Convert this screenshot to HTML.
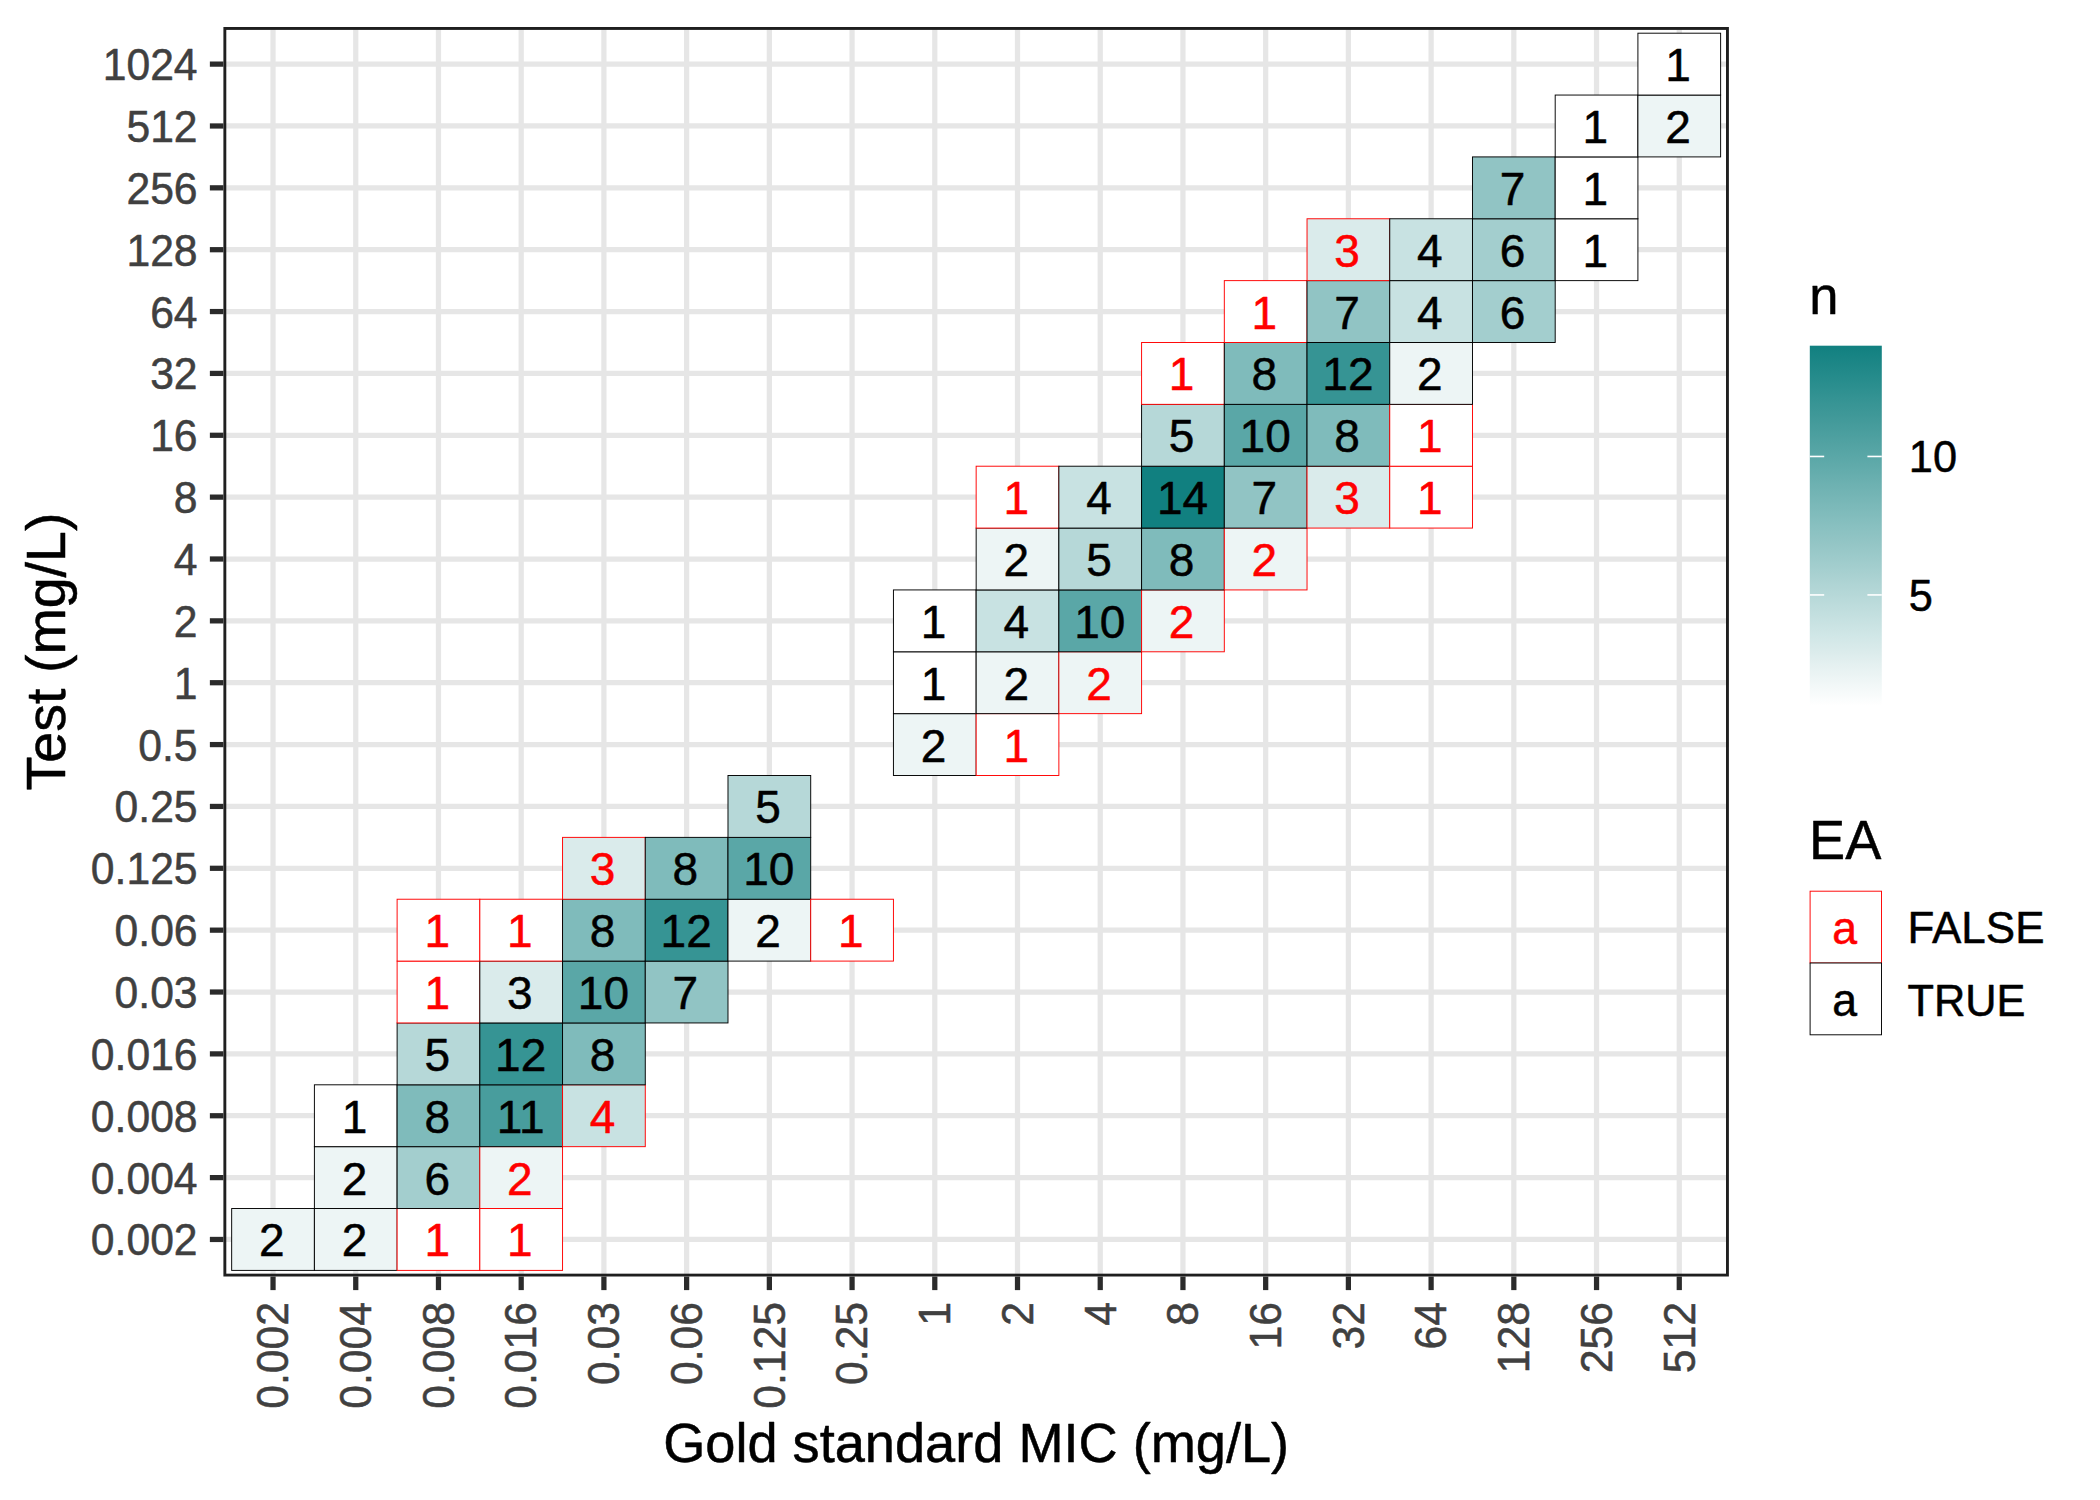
<!DOCTYPE html>
<html lang="en"><head><meta charset="utf-8"><title>Gold standard MIC vs Test</title>
<style>html,body{margin:0;padding:0;background:#fff;}body{width:2100px;height:1500px;overflow:hidden;}svg{display:block;}text{font-family:"Liberation Sans",Arial,Helvetica,sans-serif;}text{stroke-width:0.5px;stroke-linejoin:round;}.ax{font-size:43.33px;fill:#404040;stroke:#404040;}.ti{font-size:54.17px;fill:#000;stroke:#000;}.g{font-size:46.00px;}.lt{font-size:43.33px;fill:#000;stroke:#000;}</style></head><body>
<svg width="2100" height="1500" viewBox="0 0 2100 1500">
<rect width="2100" height="1500" fill="#fff"/>
<defs><clipPath id="pc"><rect x="223.40" y="27.00" width="1505.50" height="1249.57"/></clipPath>
<linearGradient id="cb" x1="0" y1="0" x2="0" y2="1"><stop offset="0.0000" stop-color="#118080"/><stop offset="0.0385" stop-color="#1a8585"/><stop offset="0.0769" stop-color="#238a8a"/><stop offset="0.1154" stop-color="#2c8f8f"/><stop offset="0.1538" stop-color="#369494"/><stop offset="0.1923" stop-color="#3f9898"/><stop offset="0.2308" stop-color="#489d9d"/><stop offset="0.2692" stop-color="#51a2a2"/><stop offset="0.3077" stop-color="#5aa7a7"/><stop offset="0.3462" stop-color="#63acac"/><stop offset="0.3846" stop-color="#6db1b1"/><stop offset="0.4231" stop-color="#76b6b6"/><stop offset="0.4615" stop-color="#7fbbbb"/><stop offset="0.5000" stop-color="#88c0c0"/><stop offset="0.5385" stop-color="#91c4c4"/><stop offset="0.5769" stop-color="#9ac9c9"/><stop offset="0.6154" stop-color="#a3cece"/><stop offset="0.6538" stop-color="#add3d3"/><stop offset="0.6923" stop-color="#b6d8d8"/><stop offset="0.7308" stop-color="#bfdddd"/><stop offset="0.7692" stop-color="#c8e2e2"/><stop offset="0.8077" stop-color="#d1e7e7"/><stop offset="0.8462" stop-color="#daebeb"/><stop offset="0.8846" stop-color="#e4f0f0"/><stop offset="0.9231" stop-color="#edf5f5"/><stop offset="0.9615" stop-color="#f6fafa"/><stop offset="1.0000" stop-color="#ffffff"/></linearGradient></defs>
<g clip-path="url(#pc)">
<g stroke="#e6e6e6" stroke-width="5.25" fill="none">
<line x1="223.40" x2="1728.90" y1="1239.46" y2="1239.46"/>
<line x1="223.40" x2="1728.90" y1="1177.60" y2="1177.60"/>
<line x1="223.40" x2="1728.90" y1="1115.74" y2="1115.74"/>
<line x1="223.40" x2="1728.90" y1="1053.88" y2="1053.88"/>
<line x1="223.40" x2="1728.90" y1="992.02" y2="992.02"/>
<line x1="223.40" x2="1728.90" y1="930.16" y2="930.16"/>
<line x1="223.40" x2="1728.90" y1="868.30" y2="868.30"/>
<line x1="223.40" x2="1728.90" y1="806.44" y2="806.44"/>
<line x1="223.40" x2="1728.90" y1="744.58" y2="744.58"/>
<line x1="223.40" x2="1728.90" y1="682.72" y2="682.72"/>
<line x1="223.40" x2="1728.90" y1="620.86" y2="620.86"/>
<line x1="223.40" x2="1728.90" y1="559.00" y2="559.00"/>
<line x1="223.40" x2="1728.90" y1="497.14" y2="497.14"/>
<line x1="223.40" x2="1728.90" y1="435.28" y2="435.28"/>
<line x1="223.40" x2="1728.90" y1="373.42" y2="373.42"/>
<line x1="223.40" x2="1728.90" y1="311.56" y2="311.56"/>
<line x1="223.40" x2="1728.90" y1="249.70" y2="249.70"/>
<line x1="223.40" x2="1728.90" y1="187.84" y2="187.84"/>
<line x1="223.40" x2="1728.90" y1="125.98" y2="125.98"/>
<line x1="223.40" x2="1728.90" y1="64.12" y2="64.12"/>
<line x1="273.03" x2="273.03" y1="27.00" y2="1276.57"/>
<line x1="355.75" x2="355.75" y1="27.00" y2="1276.57"/>
<line x1="438.47" x2="438.47" y1="27.00" y2="1276.57"/>
<line x1="521.19" x2="521.19" y1="27.00" y2="1276.57"/>
<line x1="603.91" x2="603.91" y1="27.00" y2="1276.57"/>
<line x1="686.63" x2="686.63" y1="27.00" y2="1276.57"/>
<line x1="769.35" x2="769.35" y1="27.00" y2="1276.57"/>
<line x1="852.07" x2="852.07" y1="27.00" y2="1276.57"/>
<line x1="934.79" x2="934.79" y1="27.00" y2="1276.57"/>
<line x1="1017.51" x2="1017.51" y1="27.00" y2="1276.57"/>
<line x1="1100.23" x2="1100.23" y1="27.00" y2="1276.57"/>
<line x1="1182.95" x2="1182.95" y1="27.00" y2="1276.57"/>
<line x1="1265.67" x2="1265.67" y1="27.00" y2="1276.57"/>
<line x1="1348.39" x2="1348.39" y1="27.00" y2="1276.57"/>
<line x1="1431.11" x2="1431.11" y1="27.00" y2="1276.57"/>
<line x1="1513.83" x2="1513.83" y1="27.00" y2="1276.57"/>
<line x1="1596.55" x2="1596.55" y1="27.00" y2="1276.57"/>
<line x1="1679.27" x2="1679.27" y1="27.00" y2="1276.57"/>
</g>
<g stroke-width="0.95" stroke-linejoin="miter">
<rect x="231.67" y="1208.53" width="82.72" height="61.86" fill="#edf5f5" stroke="#000"/>
<rect x="314.39" y="1208.53" width="82.72" height="61.86" fill="#edf5f5" stroke="#000"/>
<rect x="314.39" y="1146.67" width="82.72" height="61.86" fill="#edf5f5" stroke="#000"/>
<rect x="314.39" y="1084.81" width="82.72" height="61.86" fill="#ffffff" stroke="#000"/>
<rect x="397.11" y="1208.53" width="82.72" height="61.86" fill="#ffffff" stroke="#f00"/>
<rect x="397.11" y="1146.67" width="82.72" height="61.86" fill="#a3cece" stroke="#000"/>
<rect x="397.11" y="1084.81" width="82.72" height="61.86" fill="#7fbbbb" stroke="#000"/>
<rect x="397.11" y="1022.95" width="82.72" height="61.86" fill="#b6d8d8" stroke="#000"/>
<rect x="397.11" y="961.09" width="82.72" height="61.86" fill="#ffffff" stroke="#f00"/>
<rect x="397.11" y="899.23" width="82.72" height="61.86" fill="#ffffff" stroke="#f00"/>
<rect x="479.83" y="1208.53" width="82.72" height="61.86" fill="#ffffff" stroke="#f00"/>
<rect x="479.83" y="1146.67" width="82.72" height="61.86" fill="#edf5f5" stroke="#f00"/>
<rect x="479.83" y="1084.81" width="82.72" height="61.86" fill="#489d9d" stroke="#000"/>
<rect x="479.83" y="1022.95" width="82.72" height="61.86" fill="#369494" stroke="#000"/>
<rect x="479.83" y="961.09" width="82.72" height="61.86" fill="#daebeb" stroke="#000"/>
<rect x="479.83" y="899.23" width="82.72" height="61.86" fill="#ffffff" stroke="#f00"/>
<rect x="562.55" y="1084.81" width="82.72" height="61.86" fill="#c8e2e2" stroke="#f00"/>
<rect x="562.55" y="1022.95" width="82.72" height="61.86" fill="#7fbbbb" stroke="#000"/>
<rect x="562.55" y="961.09" width="82.72" height="61.86" fill="#5aa7a7" stroke="#000"/>
<rect x="562.55" y="899.23" width="82.72" height="61.86" fill="#7fbbbb" stroke="#000"/>
<rect x="562.55" y="837.37" width="82.72" height="61.86" fill="#daebeb" stroke="#f00"/>
<rect x="645.27" y="961.09" width="82.72" height="61.86" fill="#91c4c4" stroke="#000"/>
<rect x="645.27" y="899.23" width="82.72" height="61.86" fill="#369494" stroke="#000"/>
<rect x="645.27" y="837.37" width="82.72" height="61.86" fill="#7fbbbb" stroke="#000"/>
<rect x="727.99" y="899.23" width="82.72" height="61.86" fill="#edf5f5" stroke="#000"/>
<rect x="727.99" y="837.37" width="82.72" height="61.86" fill="#5aa7a7" stroke="#000"/>
<rect x="727.99" y="775.51" width="82.72" height="61.86" fill="#b6d8d8" stroke="#000"/>
<rect x="810.71" y="899.23" width="82.72" height="61.86" fill="#ffffff" stroke="#f00"/>
<rect x="893.43" y="713.65" width="82.72" height="61.86" fill="#edf5f5" stroke="#000"/>
<rect x="893.43" y="651.79" width="82.72" height="61.86" fill="#ffffff" stroke="#000"/>
<rect x="893.43" y="589.93" width="82.72" height="61.86" fill="#ffffff" stroke="#000"/>
<rect x="976.15" y="713.65" width="82.72" height="61.86" fill="#ffffff" stroke="#f00"/>
<rect x="976.15" y="651.79" width="82.72" height="61.86" fill="#edf5f5" stroke="#000"/>
<rect x="976.15" y="589.93" width="82.72" height="61.86" fill="#c8e2e2" stroke="#000"/>
<rect x="976.15" y="528.07" width="82.72" height="61.86" fill="#edf5f5" stroke="#000"/>
<rect x="976.15" y="466.21" width="82.72" height="61.86" fill="#ffffff" stroke="#f00"/>
<rect x="1058.87" y="651.79" width="82.72" height="61.86" fill="#edf5f5" stroke="#f00"/>
<rect x="1058.87" y="589.93" width="82.72" height="61.86" fill="#5aa7a7" stroke="#000"/>
<rect x="1058.87" y="528.07" width="82.72" height="61.86" fill="#b6d8d8" stroke="#000"/>
<rect x="1058.87" y="466.21" width="82.72" height="61.86" fill="#c8e2e2" stroke="#000"/>
<rect x="1141.59" y="589.93" width="82.72" height="61.86" fill="#edf5f5" stroke="#f00"/>
<rect x="1141.59" y="528.07" width="82.72" height="61.86" fill="#7fbbbb" stroke="#000"/>
<rect x="1141.59" y="466.21" width="82.72" height="61.86" fill="#118080" stroke="#000"/>
<rect x="1141.59" y="404.35" width="82.72" height="61.86" fill="#b6d8d8" stroke="#000"/>
<rect x="1141.59" y="342.49" width="82.72" height="61.86" fill="#ffffff" stroke="#f00"/>
<rect x="1224.31" y="528.07" width="82.72" height="61.86" fill="#edf5f5" stroke="#f00"/>
<rect x="1224.31" y="466.21" width="82.72" height="61.86" fill="#91c4c4" stroke="#000"/>
<rect x="1224.31" y="404.35" width="82.72" height="61.86" fill="#5aa7a7" stroke="#000"/>
<rect x="1224.31" y="342.49" width="82.72" height="61.86" fill="#7fbbbb" stroke="#000"/>
<rect x="1224.31" y="280.63" width="82.72" height="61.86" fill="#ffffff" stroke="#f00"/>
<rect x="1307.03" y="466.21" width="82.72" height="61.86" fill="#daebeb" stroke="#f00"/>
<rect x="1307.03" y="404.35" width="82.72" height="61.86" fill="#7fbbbb" stroke="#000"/>
<rect x="1307.03" y="342.49" width="82.72" height="61.86" fill="#369494" stroke="#000"/>
<rect x="1307.03" y="280.63" width="82.72" height="61.86" fill="#91c4c4" stroke="#000"/>
<rect x="1307.03" y="218.77" width="82.72" height="61.86" fill="#daebeb" stroke="#f00"/>
<rect x="1389.75" y="466.21" width="82.72" height="61.86" fill="#ffffff" stroke="#f00"/>
<rect x="1389.75" y="404.35" width="82.72" height="61.86" fill="#ffffff" stroke="#f00"/>
<rect x="1389.75" y="342.49" width="82.72" height="61.86" fill="#edf5f5" stroke="#000"/>
<rect x="1389.75" y="280.63" width="82.72" height="61.86" fill="#c8e2e2" stroke="#000"/>
<rect x="1389.75" y="218.77" width="82.72" height="61.86" fill="#c8e2e2" stroke="#000"/>
<rect x="1472.47" y="280.63" width="82.72" height="61.86" fill="#a3cece" stroke="#000"/>
<rect x="1472.47" y="218.77" width="82.72" height="61.86" fill="#a3cece" stroke="#000"/>
<rect x="1472.47" y="156.91" width="82.72" height="61.86" fill="#91c4c4" stroke="#000"/>
<rect x="1555.19" y="218.77" width="82.72" height="61.86" fill="#ffffff" stroke="#000"/>
<rect x="1555.19" y="156.91" width="82.72" height="61.86" fill="#ffffff" stroke="#000"/>
<rect x="1555.19" y="95.05" width="82.72" height="61.86" fill="#ffffff" stroke="#000"/>
<rect x="1637.91" y="95.05" width="82.72" height="61.86" fill="#edf5f5" stroke="#000"/>
<rect x="1637.91" y="33.19" width="82.72" height="61.86" fill="#ffffff" stroke="#000"/>
</g>
<g class="g">
<text class="g" text-anchor="middle" transform="translate(271.73,1256.00) scale(1.0000,1.0200)" fill="#000" stroke="#000">2</text>
<text class="g" text-anchor="middle" transform="translate(354.45,1256.00) scale(1.0000,1.0200)" fill="#000" stroke="#000">2</text>
<text class="g" text-anchor="middle" transform="translate(354.45,1195.00) scale(1.0000,1.0200)" fill="#000" stroke="#000">2</text>
<text class="g" text-anchor="middle" transform="translate(354.45,1133.00) scale(1.0000,1.0200)" fill="#000" stroke="#000">1</text>
<text class="g" text-anchor="middle" transform="translate(437.17,1256.00) scale(1.0000,1.0200)" fill="#f00" stroke="#f00">1</text>
<text class="g" text-anchor="middle" transform="translate(437.17,1195.00) scale(1.0000,1.0200)" fill="#000" stroke="#000">6</text>
<text class="g" text-anchor="middle" transform="translate(437.17,1133.00) scale(1.0000,1.0200)" fill="#000" stroke="#000">8</text>
<text class="g" text-anchor="middle" transform="translate(437.17,1071.00) scale(1.0000,1.0200)" fill="#000" stroke="#000">5</text>
<text class="g" text-anchor="middle" transform="translate(437.17,1009.00) scale(1.0000,1.0200)" fill="#f00" stroke="#f00">1</text>
<text class="g" text-anchor="middle" transform="translate(437.17,947.00) scale(1.0000,1.0200)" fill="#f00" stroke="#f00">1</text>
<text class="g" text-anchor="middle" transform="translate(519.89,1256.00) scale(1.0000,1.0200)" fill="#f00" stroke="#f00">1</text>
<text class="g" text-anchor="middle" transform="translate(519.89,1195.00) scale(1.0000,1.0200)" fill="#f00" stroke="#f00">2</text>
<text class="g" text-anchor="middle" transform="translate(520.69,1133.00) scale(1.0000,1.0200)" fill="#000" stroke="#000">11</text>
<text class="g" text-anchor="middle" transform="translate(520.69,1071.00) scale(1.0000,1.0200)" fill="#000" stroke="#000">12</text>
<text class="g" text-anchor="middle" transform="translate(519.89,1009.00) scale(1.0000,1.0200)" fill="#000" stroke="#000">3</text>
<text class="g" text-anchor="middle" transform="translate(519.89,947.00) scale(1.0000,1.0200)" fill="#f00" stroke="#f00">1</text>
<text class="g" text-anchor="middle" transform="translate(602.61,1133.00) scale(1.0000,1.0200)" fill="#f00" stroke="#f00">4</text>
<text class="g" text-anchor="middle" transform="translate(602.61,1071.00) scale(1.0000,1.0200)" fill="#000" stroke="#000">8</text>
<text class="g" text-anchor="middle" transform="translate(603.41,1009.00) scale(1.0000,1.0200)" fill="#000" stroke="#000">10</text>
<text class="g" text-anchor="middle" transform="translate(602.61,947.00) scale(1.0000,1.0200)" fill="#000" stroke="#000">8</text>
<text class="g" text-anchor="middle" transform="translate(602.61,885.00) scale(1.0000,1.0200)" fill="#f00" stroke="#f00">3</text>
<text class="g" text-anchor="middle" transform="translate(685.33,1009.00) scale(1.0000,1.0200)" fill="#000" stroke="#000">7</text>
<text class="g" text-anchor="middle" transform="translate(686.13,947.00) scale(1.0000,1.0200)" fill="#000" stroke="#000">12</text>
<text class="g" text-anchor="middle" transform="translate(685.33,885.00) scale(1.0000,1.0200)" fill="#000" stroke="#000">8</text>
<text class="g" text-anchor="middle" transform="translate(768.05,947.00) scale(1.0000,1.0200)" fill="#000" stroke="#000">2</text>
<text class="g" text-anchor="middle" transform="translate(768.85,885.00) scale(1.0000,1.0200)" fill="#000" stroke="#000">10</text>
<text class="g" text-anchor="middle" transform="translate(768.05,823.00) scale(1.0000,1.0200)" fill="#000" stroke="#000">5</text>
<text class="g" text-anchor="middle" transform="translate(850.77,947.00) scale(1.0000,1.0200)" fill="#f00" stroke="#f00">1</text>
<text class="g" text-anchor="middle" transform="translate(933.49,762.00) scale(1.0000,1.0200)" fill="#000" stroke="#000">2</text>
<text class="g" text-anchor="middle" transform="translate(933.49,700.00) scale(1.0000,1.0200)" fill="#000" stroke="#000">1</text>
<text class="g" text-anchor="middle" transform="translate(933.49,638.00) scale(1.0000,1.0200)" fill="#000" stroke="#000">1</text>
<text class="g" text-anchor="middle" transform="translate(1016.21,762.00) scale(1.0000,1.0200)" fill="#f00" stroke="#f00">1</text>
<text class="g" text-anchor="middle" transform="translate(1016.21,700.00) scale(1.0000,1.0200)" fill="#000" stroke="#000">2</text>
<text class="g" text-anchor="middle" transform="translate(1016.21,638.00) scale(1.0000,1.0200)" fill="#000" stroke="#000">4</text>
<text class="g" text-anchor="middle" transform="translate(1016.21,576.00) scale(1.0000,1.0200)" fill="#000" stroke="#000">2</text>
<text class="g" text-anchor="middle" transform="translate(1016.21,514.00) scale(1.0000,1.0200)" fill="#f00" stroke="#f00">1</text>
<text class="g" text-anchor="middle" transform="translate(1098.93,700.00) scale(1.0000,1.0200)" fill="#f00" stroke="#f00">2</text>
<text class="g" text-anchor="middle" transform="translate(1099.73,638.00) scale(1.0000,1.0200)" fill="#000" stroke="#000">10</text>
<text class="g" text-anchor="middle" transform="translate(1098.93,576.00) scale(1.0000,1.0200)" fill="#000" stroke="#000">5</text>
<text class="g" text-anchor="middle" transform="translate(1098.93,514.00) scale(1.0000,1.0200)" fill="#000" stroke="#000">4</text>
<text class="g" text-anchor="middle" transform="translate(1181.65,638.00) scale(1.0000,1.0200)" fill="#f00" stroke="#f00">2</text>
<text class="g" text-anchor="middle" transform="translate(1181.65,576.00) scale(1.0000,1.0200)" fill="#000" stroke="#000">8</text>
<text class="g" text-anchor="middle" transform="translate(1182.45,514.00) scale(1.0000,1.0200)" fill="#000" stroke="#000">14</text>
<text class="g" text-anchor="middle" transform="translate(1181.65,452.00) scale(1.0000,1.0200)" fill="#000" stroke="#000">5</text>
<text class="g" text-anchor="middle" transform="translate(1181.65,390.00) scale(1.0000,1.0200)" fill="#f00" stroke="#f00">1</text>
<text class="g" text-anchor="middle" transform="translate(1264.37,576.00) scale(1.0000,1.0200)" fill="#f00" stroke="#f00">2</text>
<text class="g" text-anchor="middle" transform="translate(1264.37,514.00) scale(1.0000,1.0200)" fill="#000" stroke="#000">7</text>
<text class="g" text-anchor="middle" transform="translate(1265.17,452.00) scale(1.0000,1.0200)" fill="#000" stroke="#000">10</text>
<text class="g" text-anchor="middle" transform="translate(1264.37,390.00) scale(1.0000,1.0200)" fill="#000" stroke="#000">8</text>
<text class="g" text-anchor="middle" transform="translate(1264.37,329.00) scale(1.0000,1.0200)" fill="#f00" stroke="#f00">1</text>
<text class="g" text-anchor="middle" transform="translate(1347.09,514.00) scale(1.0000,1.0200)" fill="#f00" stroke="#f00">3</text>
<text class="g" text-anchor="middle" transform="translate(1347.09,452.00) scale(1.0000,1.0200)" fill="#000" stroke="#000">8</text>
<text class="g" text-anchor="middle" transform="translate(1347.89,390.00) scale(1.0000,1.0200)" fill="#000" stroke="#000">12</text>
<text class="g" text-anchor="middle" transform="translate(1347.09,329.00) scale(1.0000,1.0200)" fill="#000" stroke="#000">7</text>
<text class="g" text-anchor="middle" transform="translate(1347.09,267.00) scale(1.0000,1.0200)" fill="#f00" stroke="#f00">3</text>
<text class="g" text-anchor="middle" transform="translate(1429.81,514.00) scale(1.0000,1.0200)" fill="#f00" stroke="#f00">1</text>
<text class="g" text-anchor="middle" transform="translate(1429.81,452.00) scale(1.0000,1.0200)" fill="#f00" stroke="#f00">1</text>
<text class="g" text-anchor="middle" transform="translate(1429.81,390.00) scale(1.0000,1.0200)" fill="#000" stroke="#000">2</text>
<text class="g" text-anchor="middle" transform="translate(1429.81,329.00) scale(1.0000,1.0200)" fill="#000" stroke="#000">4</text>
<text class="g" text-anchor="middle" transform="translate(1429.81,267.00) scale(1.0000,1.0200)" fill="#000" stroke="#000">4</text>
<text class="g" text-anchor="middle" transform="translate(1512.53,329.00) scale(1.0000,1.0200)" fill="#000" stroke="#000">6</text>
<text class="g" text-anchor="middle" transform="translate(1512.53,267.00) scale(1.0000,1.0200)" fill="#000" stroke="#000">6</text>
<text class="g" text-anchor="middle" transform="translate(1512.53,205.00) scale(1.0000,1.0200)" fill="#000" stroke="#000">7</text>
<text class="g" text-anchor="middle" transform="translate(1595.25,267.00) scale(1.0000,1.0200)" fill="#000" stroke="#000">1</text>
<text class="g" text-anchor="middle" transform="translate(1595.25,205.00) scale(1.0000,1.0200)" fill="#000" stroke="#000">1</text>
<text class="g" text-anchor="middle" transform="translate(1595.25,143.00) scale(1.0000,1.0200)" fill="#000" stroke="#000">1</text>
<text class="g" text-anchor="middle" transform="translate(1677.97,143.00) scale(1.0000,1.0200)" fill="#000" stroke="#000">2</text>
<text class="g" text-anchor="middle" transform="translate(1677.97,81.00) scale(1.0000,1.0200)" fill="#000" stroke="#000">1</text>
</g>
<rect x="223.40" y="27.00" width="1505.50" height="1249.57" fill="none" stroke="#1f1f1f" stroke-width="5.80"/>
</g>
<g stroke="#2b2b2b" stroke-width="5.25">
<line x1="209.86" x2="223.40" y1="1239.46" y2="1239.46"/>
<line x1="209.86" x2="223.40" y1="1177.60" y2="1177.60"/>
<line x1="209.86" x2="223.40" y1="1115.74" y2="1115.74"/>
<line x1="209.86" x2="223.40" y1="1053.88" y2="1053.88"/>
<line x1="209.86" x2="223.40" y1="992.02" y2="992.02"/>
<line x1="209.86" x2="223.40" y1="930.16" y2="930.16"/>
<line x1="209.86" x2="223.40" y1="868.30" y2="868.30"/>
<line x1="209.86" x2="223.40" y1="806.44" y2="806.44"/>
<line x1="209.86" x2="223.40" y1="744.58" y2="744.58"/>
<line x1="209.86" x2="223.40" y1="682.72" y2="682.72"/>
<line x1="209.86" x2="223.40" y1="620.86" y2="620.86"/>
<line x1="209.86" x2="223.40" y1="559.00" y2="559.00"/>
<line x1="209.86" x2="223.40" y1="497.14" y2="497.14"/>
<line x1="209.86" x2="223.40" y1="435.28" y2="435.28"/>
<line x1="209.86" x2="223.40" y1="373.42" y2="373.42"/>
<line x1="209.86" x2="223.40" y1="311.56" y2="311.56"/>
<line x1="209.86" x2="223.40" y1="249.70" y2="249.70"/>
<line x1="209.86" x2="223.40" y1="187.84" y2="187.84"/>
<line x1="209.86" x2="223.40" y1="125.98" y2="125.98"/>
<line x1="209.86" x2="223.40" y1="64.12" y2="64.12"/>
<line x1="273.03" x2="273.03" y1="1276.57" y2="1290.11"/>
<line x1="355.75" x2="355.75" y1="1276.57" y2="1290.11"/>
<line x1="438.47" x2="438.47" y1="1276.57" y2="1290.11"/>
<line x1="521.19" x2="521.19" y1="1276.57" y2="1290.11"/>
<line x1="603.91" x2="603.91" y1="1276.57" y2="1290.11"/>
<line x1="686.63" x2="686.63" y1="1276.57" y2="1290.11"/>
<line x1="769.35" x2="769.35" y1="1276.57" y2="1290.11"/>
<line x1="852.07" x2="852.07" y1="1276.57" y2="1290.11"/>
<line x1="934.79" x2="934.79" y1="1276.57" y2="1290.11"/>
<line x1="1017.51" x2="1017.51" y1="1276.57" y2="1290.11"/>
<line x1="1100.23" x2="1100.23" y1="1276.57" y2="1290.11"/>
<line x1="1182.95" x2="1182.95" y1="1276.57" y2="1290.11"/>
<line x1="1265.67" x2="1265.67" y1="1276.57" y2="1290.11"/>
<line x1="1348.39" x2="1348.39" y1="1276.57" y2="1290.11"/>
<line x1="1431.11" x2="1431.11" y1="1276.57" y2="1290.11"/>
<line x1="1513.83" x2="1513.83" y1="1276.57" y2="1290.11"/>
<line x1="1596.55" x2="1596.55" y1="1276.57" y2="1290.11"/>
<line x1="1679.27" x2="1679.27" y1="1276.57" y2="1290.11"/>
</g>
<g class="ax" text-anchor="end">
<text class="ax" text-anchor="end" transform="translate(197.60,1255.46) scale(0.9850,1.0400)">0.002</text>
<text class="ax" text-anchor="end" transform="translate(197.60,1193.60) scale(0.9850,1.0400)">0.004</text>
<text class="ax" text-anchor="end" transform="translate(197.60,1131.74) scale(0.9850,1.0400)">0.008</text>
<text class="ax" text-anchor="end" transform="translate(197.60,1069.88) scale(0.9850,1.0400)">0.016</text>
<text class="ax" text-anchor="end" transform="translate(197.60,1008.02) scale(0.9850,1.0400)">0.03</text>
<text class="ax" text-anchor="end" transform="translate(197.60,946.16) scale(0.9850,1.0400)">0.06</text>
<text class="ax" text-anchor="end" transform="translate(197.60,884.30) scale(0.9850,1.0400)">0.125</text>
<text class="ax" text-anchor="end" transform="translate(197.60,822.44) scale(0.9850,1.0400)">0.25</text>
<text class="ax" text-anchor="end" transform="translate(197.60,760.58) scale(0.9850,1.0400)">0.5</text>
<text class="ax" text-anchor="end" transform="translate(197.60,698.72) scale(0.9850,1.0400)">1</text>
<text class="ax" text-anchor="end" transform="translate(197.60,636.86) scale(0.9850,1.0400)">2</text>
<text class="ax" text-anchor="end" transform="translate(197.60,575.00) scale(0.9850,1.0400)">4</text>
<text class="ax" text-anchor="end" transform="translate(197.60,513.14) scale(0.9850,1.0400)">8</text>
<text class="ax" text-anchor="end" transform="translate(197.60,451.28) scale(0.9850,1.0400)">16</text>
<text class="ax" text-anchor="end" transform="translate(197.60,389.42) scale(0.9850,1.0400)">32</text>
<text class="ax" text-anchor="end" transform="translate(197.60,327.56) scale(0.9850,1.0400)">64</text>
<text class="ax" text-anchor="end" transform="translate(197.60,265.70) scale(0.9850,1.0400)">128</text>
<text class="ax" text-anchor="end" transform="translate(197.60,203.84) scale(0.9850,1.0400)">256</text>
<text class="ax" text-anchor="end" transform="translate(197.60,141.98) scale(0.9850,1.0400)">512</text>
<text class="ax" text-anchor="end" transform="translate(197.60,80.12) scale(0.9850,1.0400)">1024</text>
</g>
<g class="ax" text-anchor="end">
<text class="ax" text-anchor="end" transform="translate(288.33,1302.00) rotate(-90) scale(0.9850,1.0400)">0.002</text>
<text class="ax" text-anchor="end" transform="translate(371.05,1302.00) rotate(-90) scale(0.9850,1.0400)">0.004</text>
<text class="ax" text-anchor="end" transform="translate(453.77,1302.00) rotate(-90) scale(0.9850,1.0400)">0.008</text>
<text class="ax" text-anchor="end" transform="translate(536.49,1302.00) rotate(-90) scale(0.9850,1.0400)">0.016</text>
<text class="ax" text-anchor="end" transform="translate(619.21,1302.00) rotate(-90) scale(0.9850,1.0400)">0.03</text>
<text class="ax" text-anchor="end" transform="translate(701.93,1302.00) rotate(-90) scale(0.9850,1.0400)">0.06</text>
<text class="ax" text-anchor="end" transform="translate(784.65,1302.00) rotate(-90) scale(0.9850,1.0400)">0.125</text>
<text class="ax" text-anchor="end" transform="translate(867.37,1302.00) rotate(-90) scale(0.9850,1.0400)">0.25</text>
<text class="ax" text-anchor="end" transform="translate(950.09,1302.00) rotate(-90) scale(0.9850,1.0400)">1</text>
<text class="ax" text-anchor="end" transform="translate(1032.81,1302.00) rotate(-90) scale(0.9850,1.0400)">2</text>
<text class="ax" text-anchor="end" transform="translate(1115.53,1302.00) rotate(-90) scale(0.9850,1.0400)">4</text>
<text class="ax" text-anchor="end" transform="translate(1198.25,1302.00) rotate(-90) scale(0.9850,1.0400)">8</text>
<text class="ax" text-anchor="end" transform="translate(1280.97,1302.00) rotate(-90) scale(0.9850,1.0400)">16</text>
<text class="ax" text-anchor="end" transform="translate(1363.69,1302.00) rotate(-90) scale(0.9850,1.0400)">32</text>
<text class="ax" text-anchor="end" transform="translate(1446.41,1302.00) rotate(-90) scale(0.9850,1.0400)">64</text>
<text class="ax" text-anchor="end" transform="translate(1529.13,1302.00) rotate(-90) scale(0.9850,1.0400)">128</text>
<text class="ax" text-anchor="end" transform="translate(1611.85,1302.00) rotate(-90) scale(0.9850,1.0400)">256</text>
<text class="ax" text-anchor="end" transform="translate(1694.57,1302.00) rotate(-90) scale(0.9850,1.0400)">512</text>
</g>
<text class="ti" text-anchor="middle" transform="translate(976.15,1462.00) scale(1.0000,1.0300)">Gold standard MIC (mg/L)</text>
<text class="ti" text-anchor="middle" transform="translate(65.10,651.49) rotate(-90) scale(1.0260,1.0300)">Test (mg/L)</text>
<text class="ti" text-anchor="start" transform="translate(1809.20,314.20) scale(0.9700,0.9900)">n</text>
<rect x="1809.80" y="345.70" width="72.00" height="360.00" fill="url(#cb)"/>
<g stroke="#fff" stroke-width="1.6">
<line x1="1809.80" x2="1824.20" y1="594.93" y2="594.93"/>
<line x1="1867.40" x2="1881.80" y1="594.93" y2="594.93"/>
<line x1="1809.80" x2="1824.20" y1="456.47" y2="456.47"/>
<line x1="1867.40" x2="1881.80" y1="456.47" y2="456.47"/>
</g>
<text class="lt" text-anchor="start" transform="translate(1908.80,610.83) scale(1.0000,1.0400)">5</text>
<text class="lt" text-anchor="start" transform="translate(1908.80,472.37) scale(1.0000,1.0400)">10</text>
<text class="ti" text-anchor="start" transform="translate(1809.10,859.30) scale(1.0000,1.0400)">EA</text>
<g stroke-width="0.95" fill="#fff">
<rect x="1810.10" y="891.20" width="71.40" height="71.80" stroke="#f00"/>
<rect x="1810.10" y="963.00" width="71.40" height="71.80" stroke="#000"/>
</g>
<text class="g" text-anchor="middle" transform="translate(1844.60,944.00) scale(0.9700,1.0000)" fill="#f00" stroke="#f00">a</text>
<text class="g" text-anchor="middle" transform="translate(1844.60,1015.80) scale(0.9700,1.0000)" fill="#000" stroke="#000">a</text>
<text class="lt" text-anchor="start" transform="translate(1907.60,943.40) scale(1.0150,1.0400)">FALSE</text>
<text class="lt" text-anchor="start" transform="translate(1907.60,1015.60) scale(1.0000,1.0400)">TRUE</text>
</svg></body></html>
